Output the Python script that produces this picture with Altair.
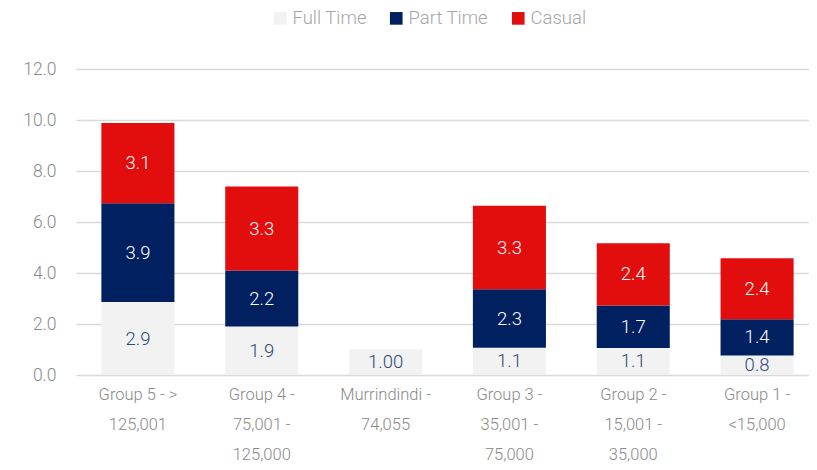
import altair as alt
import pandas as pd

categories = ["Group 5 - > 125,001", "Group 4 - 75,001 - 125,000", "Murrindindi - 74,055",
              "Group 3 - 35,001 - 75,000", "Group 2 - 15,001 - 35,000", "Group 1 - <15,000"]
label_lines = [["Group 5 - >", "125,001"], ["Group 4 -", "75,001 -", "125,000"],
               ["Murrindindi -", "74,055"], ["Group 3 -", "35,001 -", "75,000"],
               ["Group 2 -", "15,001 -", "35,000"], ["Group 1 -", "<15,000"]]
series = ["Full Time", "Part Time", "Casual"]
full_time = [2.86, 1.90, 1.00, 1.07, 1.06, 0.76]
part_time = [3.88, 2.20, 0, 2.29, 1.67, 1.43]
casual = [3.14, 3.29, 0, 3.28, 2.44, 2.39]
colors = ["#F2F2F2", "#002060", "#E20E0E"]
text_colors = ["#2E4A7A", "#FFFFFF", "#FFFFFF"]

rows = []
for si, (s, vals) in enumerate(zip(series, [full_time, part_time, casual])):
    for c, v in zip(categories, vals):
        lab = f"{v:.2f}" if c.startswith("Murrindindi") else f"{v:.1f}"
        rows.append({"category": c, "series": s, "value": v, "order": si, "label": lab})
df = pd.DataFrame(rows)

FONT = "Roboto"
label_map = {c: l for c, l in zip(categories, label_lines)}
expr_parts = " : ".join([f"datum.value == '{c}' ? {l!r}" for c, l in label_map.items()]) + " : datum.value"

base = alt.Chart(df).transform_stack(
    stack="value", groupby=["category"], as_=["y0", "y1"],
    sort=[alt.SortField("order", order="ascending")]
).transform_calculate(mid="(datum.y0 + datum.y1) / 2")

x = alt.X("category:N", sort=categories, title=None,
          scale=alt.Scale(range=[0, 743], paddingInner=0.41, paddingOuter=0.205),
          axis=alt.Axis(labelAngle=0, domain=False, ticks=False, labelPadding=11,
                        labelFont=FONT, labelFontSize=16.5, labelFontWeight=300,
                        labelColor="#898989", labelLineHeight=30, labelBaseline="top",
                        labelExpr=expr_parts, labelLimit=200))

bars = base.mark_bar().encode(
    x=x,
    y=alt.Y("y0:Q", title=None,
            scale=alt.Scale(domain=[0, 12], nice=False),
            axis=alt.Axis(values=[0, 2, 4, 6, 8, 10, 12], format=".1f", domain=False, ticks=False,
                          labelPadding=20, labelFont=FONT, labelFontSize=17.5, labelFontWeight=300,
                          labelColor="#898989", gridColor="#D9D9D9", gridWidth=1.5)),
    y2="y1:Q",
    color=alt.Color("series:N", sort=series,
                    scale=alt.Scale(domain=series, range=colors),
                    legend=alt.Legend(title=None, orient="none", direction="horizontal",
                                      legendX=195, legendY=-60, symbolType="square",
                                      symbolSize=160, symbolStrokeWidth=0, labelFont=FONT,
                                      labelFontSize=18.5, labelFontWeight=300,
                                      labelColor="#A6A6A6", columnPadding=20, labelOffset=3)),
)

texts = base.transform_filter("datum.value > 0").mark_text(
    font=FONT, fontSize=18.5, fontWeight=300, baseline="middle", align="center"
).encode(
    x=alt.X("category:N", sort=categories),
    y=alt.Y("mid:Q"),
    text="label:N",
    color=alt.Color("series:N", scale=alt.Scale(domain=series, range=text_colors), legend=None),
)

chart = alt.layer(bars, texts).resolve_scale(color="independent").properties(
    width=733, height=306,
    autosize=alt.AutoSizeParams(type="none"),
    padding={"left": 68, "top": 61, "right": 0, "bottom": 87},
).configure_view(stroke=None)

chart.save("out.html", embed_options={"renderer": "svg", "actions": False})
